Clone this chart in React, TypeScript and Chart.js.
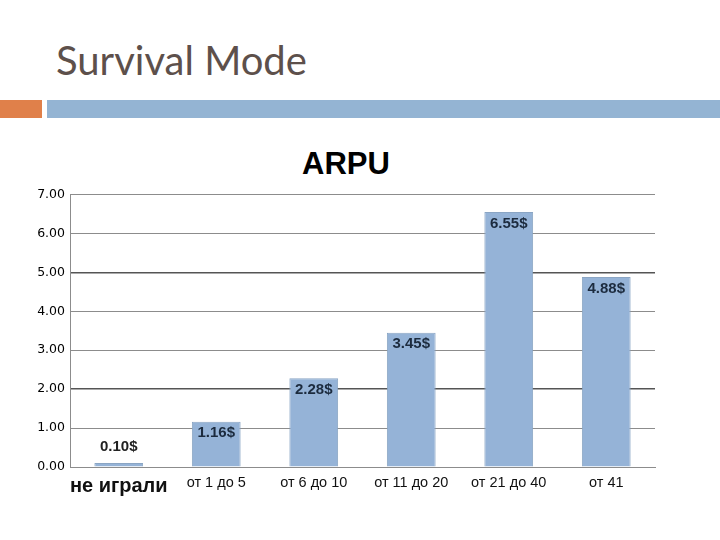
import React, { useEffect, useRef } from "react";
import { Chart, registerables } from "chart.js";

Chart.register(...registerables);

const categories = ["не играли", "от 1 до 5", "от 6 до 10", "от 11 до 20", "от 21 до 40", "от 41"];
const arpuValues = [0.1, 1.16, 2.28, 3.45, 6.55, 4.88];
const valueLabels = ["0.10$", "1.16$", "2.28$", "3.45$", "6.55$", "4.88$"];
const yTicks = [0, 1, 2, 3, 4, 5, 6, 7];

const barLabelPlugin = {
  id: "barLabels",
  afterDatasetsDraw(chart: any) {
    const ctx = chart.ctx;
    const meta = chart.getDatasetMeta(0);
    ctx.save();
    ctx.textAlign = "center";
    meta.data.forEach((bar: any, i: number) => {
      const h = bar.base - bar.y;
      ctx.font = "bold 15px Arial, 'Liberation Sans', sans-serif";
      if (h > 25) {
        ctx.fillStyle = "#1c2b3e";
        ctx.textBaseline = "top";
        ctx.fillText(valueLabels[i], bar.x, bar.y + 4);
      } else {
        ctx.fillStyle = "#222222";
        ctx.textBaseline = "bottom";
        ctx.fillText(valueLabels[i], bar.x, bar.y - 9);
      }
    });
    ctx.restore();
  },
};

export default function App() {
  const ref = useRef<HTMLCanvasElement>(null);
  useEffect(() => {
    document.body.style.margin = "0";
    const chart = new Chart(ref.current!, {
      type: "bar",
      data: {
        labels: categories,
        datasets: [
          {
            data: arpuValues,
            backgroundColor: "#95b3d7",
            borderColor: "#8aa5c4",
            borderWidth: 1,
            barPercentage: 0.5,
            categoryPercentage: 1,
          },
        ],
      },
      options: {
        animation: false,
        responsive: false,
        maintainAspectRatio: false,
        layout: { padding: { left: 10, right: 65, top: 11, bottom: 3 } },
        plugins: { legend: { display: false }, tooltip: { enabled: false }, title: { display: false } },
        scales: {
          x: {
            grid: { display: false, drawTicks: false },
            border: { color: "#8c8c8c", width: 1 },
            ticks: {
              padding: 7,
              maxRotation: 0,
              minRotation: 0,
              autoSkip: false,
              color: "#111111",
              font: (c: any) =>
                c.index === 0
                  ? { family: "Arial, 'Liberation Sans', sans-serif", size: 20, weight: "bold" }
                  : { family: "Arial, 'Liberation Sans', sans-serif", size: 14.5 },
            },
            afterFit: (s: any) => {
              s.height = 30;
            },
          },
          y: {
            min: 0,
            max: 7,
            afterBuildTicks: (s: any) => {
              s.ticks = yTicks.map((v) => ({ value: v }));
            },
            grid: {
              drawTicks: false,
              color: (c: any) => (c.tick && (c.tick.value === 5 || c.tick.value === 2) ? "#555555" : "#8c8c8c"),
              lineWidth: (c: any) => (c.tick && (c.tick.value === 5 || c.tick.value === 2) ? 1.6 : 1),
            },
            border: { color: "#8c8c8c", width: 1 },
            ticks: {
              padding: 5,
              color: "#000000",
              font: { family: "Verdana, 'DejaVu Sans', sans-serif", size: 12.5 },
              callback: (v: any) => Number(v).toFixed(2),
            },
            afterFit: (s: any) => {
              s.width = 60;
            },
          },
        },
      },
      plugins: [barLabelPlugin],
    });
    return () => chart.destroy();
  }, []);

  return (
    <div style={{ position: "relative", width: 720, height: 540, background: "#ffffff", overflow: "hidden" }}>
      <div
        style={{
          position: "absolute",
          left: 56,
          top: 37,
          fontFamily: "Lato, 'Open Sans', sans-serif",
          fontSize: 40,
          color: "#5d504b",
          lineHeight: "46px",
          whiteSpace: "nowrap",
        }}
      >
        Survival Mode
      </div>
      <div style={{ position: "absolute", left: 0, top: 100, width: 42, height: 18, background: "#e0804a" }} />
      <div style={{ position: "absolute", left: 47, top: 100, width: 673, height: 18, background: "#94b4d3" }} />
      <div
        style={{
          position: "absolute",
          left: 246,
          width: 200,
          top: 146,
          textAlign: "center",
          fontFamily: "Arial, 'Liberation Sans', sans-serif",
          fontWeight: "bold",
          fontSize: 31,
          lineHeight: "36px",
          color: "#000000",
        }}
      >
        ARPU
      </div>
      <canvas ref={ref} width={720} height={318} style={{ position: "absolute", left: 0, top: 182, width: 720, height: 318 }} />
    </div>
  );
}
